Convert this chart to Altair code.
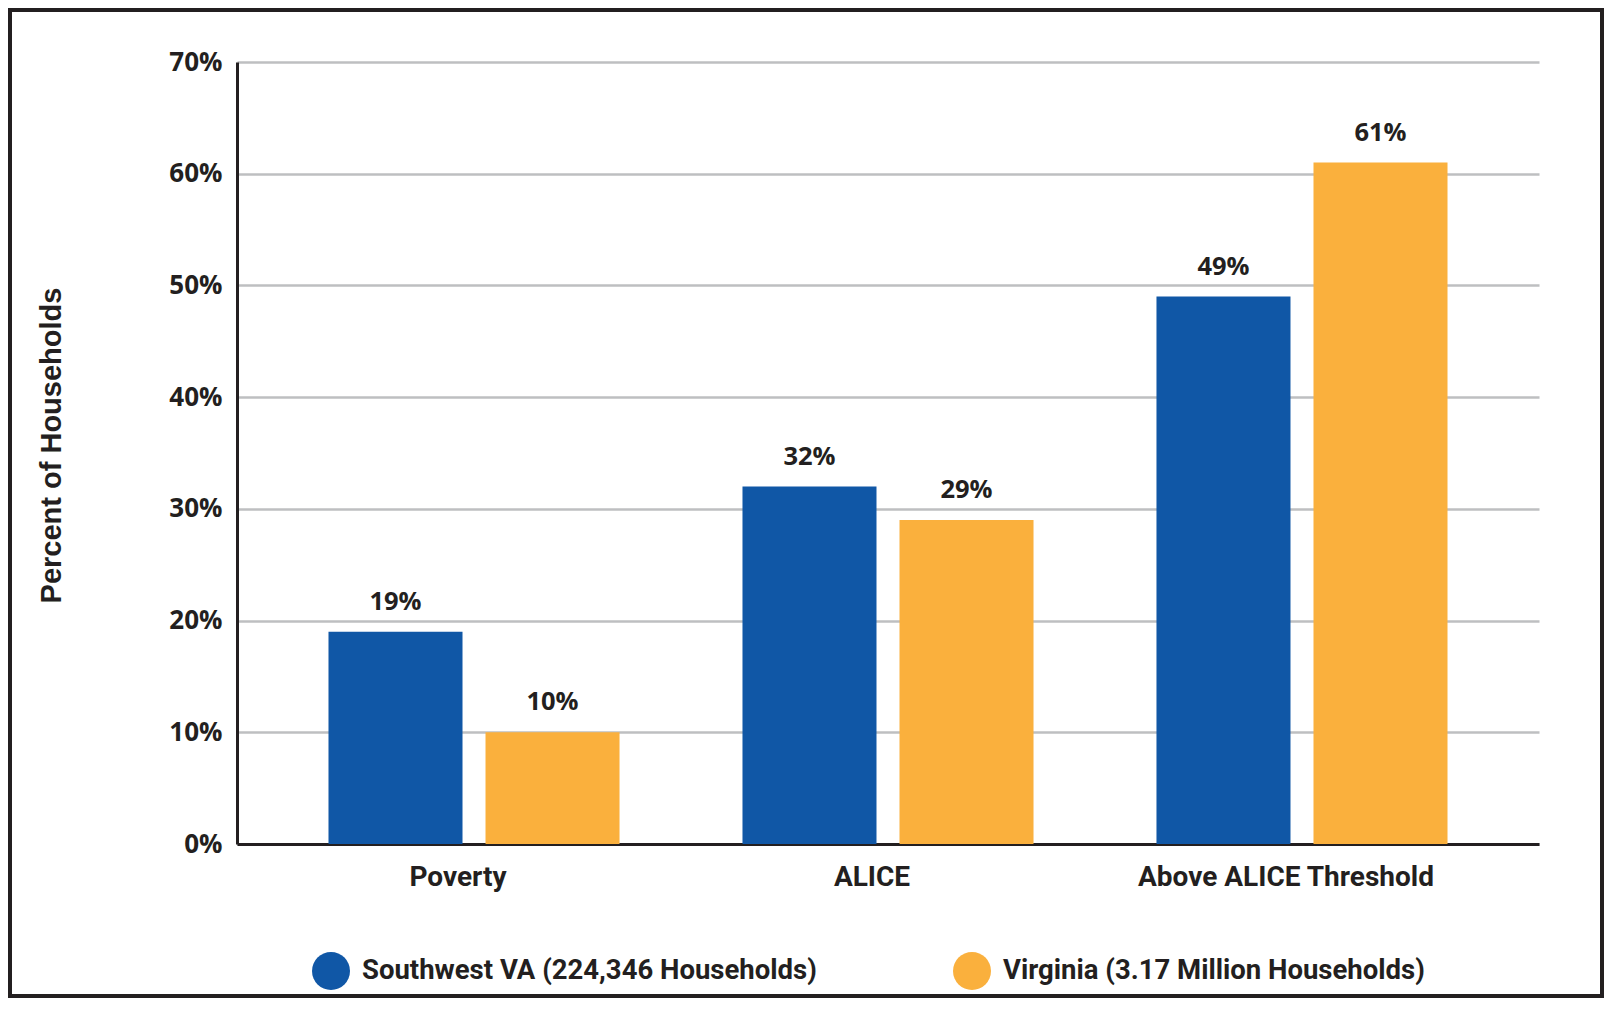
import altair as alt
import pandas as pd

categories = ["Poverty", "ALICE", "Above ALICE Threshold"]
series_names = ["Southwest VA (224,346 Households)", "Virginia (3.17 Million Households)"]
southwest_values = [0.19, 0.32, 0.49]
virginia_values = [0.10, 0.29, 0.61]
y_ticks = [0, 0.1, 0.2, 0.3, 0.4, 0.5, 0.6, 0.7]
colors = ["#1057A6", "#FAB03D"]

rows = []
for i, c in enumerate(categories):
    rows.append({"category": c, "series": series_names[0], "value": southwest_values[i]})
    rows.append({"category": c, "series": series_names[1], "value": virginia_values[i]})
df = pd.DataFrame(rows)

TXT = "#231F20"
W, H = 1302, 782

x = alt.X(
    "category:N",
    sort=categories,
    scale=alt.Scale(paddingInner=0.297, paddingOuter=0.221),
    axis=alt.Axis(
        title=None,
        labelAngle=0,
        labelFont="Roboto",
        labelFontWeight="bold",
        labelFontSize=28,
        labelColor=TXT,
        labelPadding=19,
        labelOffset=-16,
        labelLimit=0,
        ticks=False,
        grid=False,
        domainColor=TXT,
        domainWidth=3,
    ),
)
xoff = alt.XOffset(
    "series:N",
    sort=series_names,
    scale=alt.Scale(paddingInner=0.1465, paddingOuter=0),
)
y = alt.Y(
    "value:Q",
    scale=alt.Scale(domain=[0, 0.7], nice=False),
    axis=alt.Axis(
        values=y_ticks,
        format=".0%",
        title="Percent of Households",
        titleFont="Liberation Sans",
        titleFontWeight="bold",
        titleFontSize=29,
        titleColor=TXT,
        titleX=-177,
        titleY=383,
        titleAngle=270,
        titleAlign="center",
        titleBaseline="alphabetic",
        labelFont="Open Sans",
        labelFontWeight="bold",
        labelFontSize=26,
        labelColor=TXT,
        labelPadding=15,
        ticks=False,
        grid=True,
        gridColor="#BEBFC1",
        gridWidth=2.5,
        domainColor=TXT,
        domainWidth=3,
    ),
)
color = alt.Color(
    "series:N",
    sort=series_names,
    scale=alt.Scale(domain=series_names, range=colors),
    legend=alt.Legend(
        orient="none",
        legendX=75,
        legendY=890,
        direction="horizontal",
        title=None,
        symbolType="circle",
        symbolSize=1444,
        symbolStrokeWidth=0,
        symbolOpacity=1,
        labelFont="Roboto",
        labelFontWeight="bold",
        labelFontSize=27.5,
        labelColor=TXT,
        labelOffset=12,
        labelLimit=0,
        columnPadding=136,
        padding=0,
    ),
)

base = alt.Chart(df)
bars = base.mark_bar().encode(x=x, xOffset=xoff, y=y, color=color)
labels = base.mark_text(
    dy=-22,
    baseline="alphabetic",
    align="center",
    font="Open Sans",
    fontWeight="bold",
    fontSize=25.5,
    color=TXT,
).encode(x=x, xOffset=xoff, y=y, text=alt.Text("value:Q", format=".0%"))

frame = alt.Chart(pd.DataFrame({"f": [0]})).mark_rect(
    filled=False, stroke=TXT, strokeWidth=4
).encode(
    x=alt.value(-227), x2=alt.value(1365), y=alt.value(-52), y2=alt.value(934)
)

chart = (
    alt.layer(bars, labels, frame)
    .properties(
        width=W,
        height=H,
        autosize=alt.AutoSizeParams(type="none"),
        padding={"left": 229, "top": 54, "right": 65, "bottom": 154},
        background="white",
    )
    .configure_view(stroke=None)
)

chart.save("out.html", embed_options={"renderer": "svg", "actions": False})
